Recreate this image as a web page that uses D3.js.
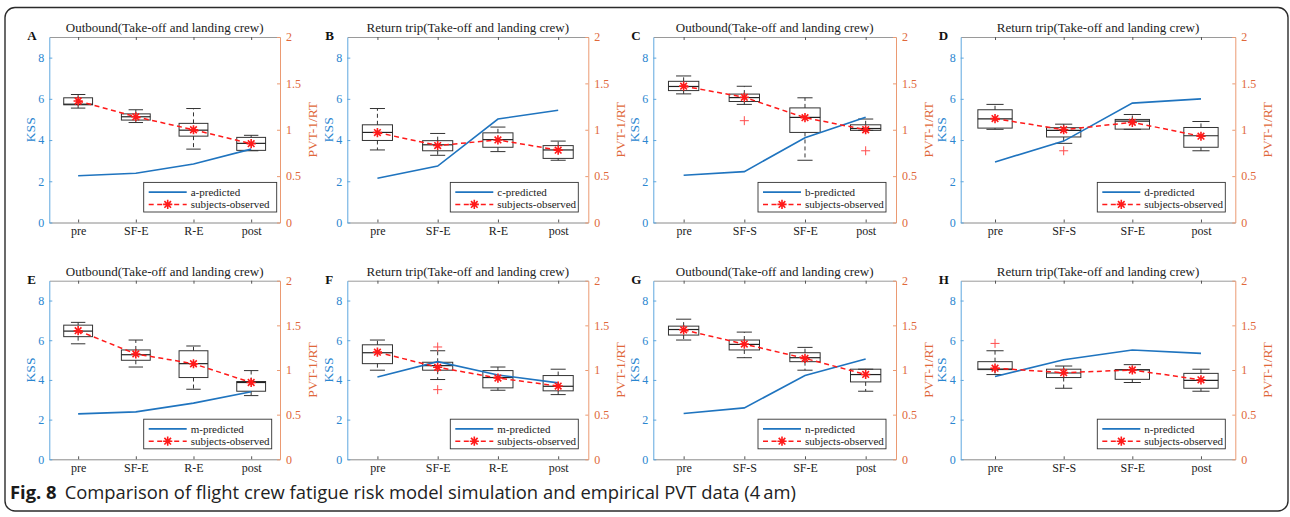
<!DOCTYPE html>
<html><head><meta charset="utf-8">
<script src="https://cdn.jsdelivr.net/npm/d3@7"></script>
<style>
html,body{margin:0;padding:0;background:#fff;}
svg{display:block;}
</style></head><body>
<svg id="fig" width="1290" height="517"></svg>
<script>
// ---- data ----
const panelLetters = ["A","B","C","D","E","F","G","H"];
const panelTitles = [
  "Outbound(Take-off and landing crew)", "Return trip(Take-off and landing crew)",
  "Outbound(Take-off and landing crew)", "Return trip(Take-off and landing crew)",
  "Outbound(Take-off and landing crew)", "Return trip(Take-off and landing crew)",
  "Outbound(Take-off and landing crew)", "Return trip(Take-off and landing crew)"];
const stagesRE = ["pre","SF-E","R-E","post"];
const stagesSF = ["pre","SF-S","SF-E","post"];
const panelStages = [stagesRE, stagesRE, stagesSF, stagesSF, stagesRE, stagesRE, stagesSF, stagesSF];
const predictedNames = ["a-predicted","c-predicted","b-predicted","d-predicted",
                        "m-predicted","m-predicted","n-predicted","n-predicted"];
const observedName = "subjects-observed";
// model-predicted KSS per stage
const predictedKSS = [
  [2.27, 2.39, 2.84, 3.56],
  [2.15, 2.74, 5.02, 5.45],
  [2.29, 2.47, 4.11, 5.11],
  [2.94, 3.95, 5.79, 6.00],
  [2.29, 2.39, 2.83, 3.40],
  [4.15, 4.92, 4.25, 3.85],
  [2.31, 2.59, 4.22, 5.05],
  [4.17, 5.02, 5.51, 5.34]];
// observed PVT 1/RT per stage
const observedPVT = [
  [1.31, 1.14, 1.00, 0.85],
  [0.97, 0.83, 0.89, 0.78],
  [1.47, 1.35, 1.13, 1.00],
  [1.12, 1.00, 1.08, 0.93],
  [1.44, 1.18, 1.07, 0.86],
  [1.20, 1.03, 0.91, 0.82],
  [1.45, 1.29, 1.13, 0.95],
  [1.02, 0.97, 1.00, 0.89]];
// KSS box summaries per stage: [lower whisker, Q1, median, Q3, upper whisker]
const kssBoxes = [
  [[5.55,5.71,5.74,6.05,6.21],[4.85,4.97,5.13,5.27,5.47],[3.56,4.19,4.48,4.81,5.53],[3.48,3.50,3.84,4.13,4.23]],
  [[3.52,3.98,4.37,4.74,5.53],[3.26,3.48,3.77,3.97,4.32],[3.44,3.65,4.02,4.35,4.63],[3.02,3.11,3.52,3.73,3.95]],
  [[6.24,6.40,6.60,6.85,7.11],[5.73,5.87,6.06,6.23,6.61],[3.02,4.37,5.10,5.56,6.05],[4.47,4.47,4.56,4.74,5.02]],
  [[4.52,4.58,5.03,5.47,5.73],[3.84,4.15,4.47,4.60,4.77],[4.52,4.53,4.92,5.00,5.24],[3.48,3.65,4.21,4.61,4.90]],
  [[5.82,6.18,6.46,6.76,6.90],[4.65,4.99,5.27,5.51,6.01],[3.53,4.12,4.82,5.47,5.71],[3.21,3.43,3.87,3.92,4.47]],
  [[4.49,4.82,5.37,5.77,6.01],[4.02,4.49,4.72,4.89,5.47],[3.48,3.60,4.12,4.47,4.65],[3.26,3.45,3.68,4.22,4.54]],
  [[6.01,6.26,6.54,6.71,7.06],[5.12,5.51,5.79,6.01,6.41],[4.49,4.92,5.12,5.37,5.64],[3.43,3.90,4.27,4.54,4.54]],
  [[4.27,4.52,4.55,4.92,5.47],[3.58,4.12,4.35,4.54,4.70],[3.87,4.03,4.50,4.52,4.77],[3.43,3.58,3.98,4.33,4.54]]];
const kssOutliers = [
  [[],[],[],[]],
  [[],[],[],[]],
  [[],[4.94],[],[3.48]],
  [[],[3.48],[],[]],
  [[],[],[],[]],
  [[],[5.66,3.51],[],[]],
  [[],[],[],[]],
  [[5.84],[],[],[]]];
const kssTicks = [0, 2, 4, 6, 8];
const pvtTicks = [0, 0.5, 1, 1.5, 2];
const captionLabel = "Fig. 8";
const captionText = "Comparison of flight crew fatigue risk model simulation and empirical PVT data (4\u2009am)";

// ---- layout ----
const rows = [{t: 37, b: 222.5}, {t: 280.7, b: 459.3}];
const cols = [{l: 49.3, r: 280}, {l: 347.3, r: 588.3}, {l: 653.3, r: 896}, {l: 960.7, r: 1235.3}];
const legendRightGap = [3.3, 10, 10, 10, 8.3, 10, 10, 10];
const legendWidth = [133, 128, 128, 128, 128, 128, 128, 128];

const BLUE_TXT = "#2a86d0", BLUE_AX = "#5ea7df";
const ORANGE_TXT = "#e0683a", ORANGE_AX = "#eb9a72";
const LINE_BLUE = "#1f74bf", RED = "#ff1a1a";
const SERIF = "'Liberation Serif', 'Times New Roman', serif";

const svg = d3.select("#fig");

// outer rounded frame
svg.append("rect").attr("x", 5).attr("y", 7.5).attr("width", 1283).attr("height", 503.5)
  .attr("rx", 10).attr("ry", 10).attr("fill", "none").attr("stroke", "#2b2b2b").attr("stroke-width", 1.4);

function starPath(r) {
  const d = r * 0.72;
  return `M${-r},0H${r}M0,${-r}V${r}M${-d},${-d}L${d},${d}M${-d},${d}L${d},${-d}`;
}

panelLetters.forEach((letter, i) => {
  const row = rows[Math.floor(i / 4)], col = cols[i % 4];
  const L = col.l, R = col.r, T = row.t, B = row.b;
  const stages = panelStages[i];

  const x = d3.scalePoint().domain(stages).range([L, R]).padding(0.5);
  const yK = d3.scaleLinear().domain([0, 9]).range([B, T]);
  const yP = d3.scaleLinear().domain([0, 2]).range([B, T]);
  const step = x.step();
  const bw = step * 0.5;

  const g = svg.append("g");

  // top frame line with inward ticks
  const top = g.append("g").attr("transform", `translate(0,${T})`)
    .call(d3.axisTop(x).tickSizeInner(-3).tickSizeOuter(0).tickFormat(""));
  top.select(".domain").attr("stroke", "#9a9a9a");
  top.selectAll(".tick line").attr("stroke", "#555");

  // bottom axis
  const bot = g.append("g").attr("transform", `translate(0,${B})`)
    .call(d3.axisBottom(x).tickSizeInner(-3).tickSizeOuter(0).tickPadding(4));
  bot.select(".domain").attr("stroke", "#8a8a8a");
  bot.selectAll(".tick line").attr("stroke", "#555");
  bot.selectAll("text").attr("font-family", SERIF).attr("font-size", 12).attr("fill", "#222");

  // left KSS axis
  const la = g.append("g").attr("transform", `translate(${L},0)`)
    .call(d3.axisLeft(yK).tickValues(kssTicks).tickSizeInner(-3).tickSizeOuter(0).tickPadding(5));
  la.select(".domain").attr("stroke", BLUE_AX);
  la.selectAll(".tick line").attr("stroke", BLUE_AX);
  la.selectAll("text").attr("font-family", SERIF).attr("font-size", 12).attr("fill", BLUE_TXT);

  // right PVT axis
  const ra = g.append("g").attr("transform", `translate(${R},0)`)
    .call(d3.axisRight(yP).tickValues(pvtTicks).tickSizeInner(-3).tickSizeOuter(0).tickPadding(6)
      .tickFormat(d3.format("")));
  ra.select(".domain").attr("stroke", ORANGE_AX);
  ra.selectAll(".tick line").attr("stroke", ORANGE_AX);
  ra.selectAll("text").attr("font-family", SERIF).attr("font-size", 12).attr("fill", ORANGE_TXT);

  // axis titles
  g.append("text").attr("transform", `translate(${L - 19},${(T + B) / 2}) rotate(-90)`)
    .attr("text-anchor", "middle").attr("dy", "0.35em")
    .attr("font-family", SERIF).attr("font-size", 13.5).attr("fill", BLUE_TXT).text("KSS");
  g.append("text").attr("transform", `translate(${R + 32},${(T + B) / 2}) rotate(-90)`)
    .attr("text-anchor", "middle").attr("dy", "0.35em")
    .attr("font-family", SERIF).attr("font-size", 13.5).attr("fill", ORANGE_TXT).text("PVT-1/RT");

  // panel title and letter
  g.append("text").attr("x", (L + R) / 2).attr("y", T - 5).attr("text-anchor", "middle")
    .attr("font-family", SERIF).attr("font-size", 13).attr("fill", "#222").text(panelTitles[i]);
  g.append("text").attr("x", L - 22).attr("y", T + 3).attr("font-family", SERIF)
    .attr("font-weight", "bold").attr("font-size", 13).attr("fill", "#111").text(letter);

  // box plots of KSS
  const boxes = g.append("g");
  stages.forEach((s, k) => {
    const [lo, q1, med, q3, hi] = kssBoxes[i][k];
    const cx = x(s);
    const bg = boxes.append("g").attr("stroke", "#333").attr("fill", "none").attr("stroke-width", 1);
    bg.append("line").attr("x1", cx).attr("x2", cx).attr("y1", yK(q3)).attr("y2", yK(hi))
      .attr("stroke-dasharray", "4,3");
    bg.append("line").attr("x1", cx).attr("x2", cx).attr("y1", yK(q1)).attr("y2", yK(lo))
      .attr("stroke-dasharray", "4,3");
    bg.append("line").attr("x1", cx - bw / 4).attr("x2", cx + bw / 4).attr("y1", yK(hi)).attr("y2", yK(hi));
    bg.append("line").attr("x1", cx - bw / 4).attr("x2", cx + bw / 4).attr("y1", yK(lo)).attr("y2", yK(lo));
    bg.append("rect").attr("x", cx - bw / 2).attr("width", bw)
      .attr("y", yK(q3)).attr("height", yK(q1) - yK(q3));
    bg.append("line").attr("x1", cx - bw / 2).attr("x2", cx + bw / 2).attr("y1", yK(med)).attr("y2", yK(med))
      .attr("stroke", "#222").attr("stroke-width", 1.2);
    kssOutliers[i][k].forEach(v => {
      boxes.append("path").attr("transform", `translate(${cx},${yK(v)})`)
        .attr("d", "M-4.5,0H4.5M0,-4.5V4.5").attr("stroke", "#ff4d4d").attr("stroke-width", 1);
    });
  });

  // predicted KSS line
  const pred = stages.map((s, k) => [x(s), yK(predictedKSS[i][k])]);
  g.append("path").attr("d", d3.line()(pred)).attr("fill", "none")
    .attr("stroke", LINE_BLUE).attr("stroke-width", 1.6);

  // observed PVT dashed line with asterisk markers
  const obs = stages.map((s, k) => [x(s), yP(observedPVT[i][k])]);
  g.append("path").attr("d", d3.line()(obs)).attr("fill", "none")
    .attr("stroke", RED).attr("stroke-width", 1.5).attr("stroke-dasharray", "5,3.5");
  g.selectAll(null).data(obs).join("path")
    .attr("transform", d => `translate(${d[0]},${d[1]})`)
    .attr("d", starPath(4.6)).attr("stroke", RED).attr("stroke-width", 1.6).attr("fill", "none");

  // legend
  const lw = legendWidth[i], lh = 29.6;
  const lx = R - legendRightGap[i] - lw, ly = B - 10.5 - lh;
  const lg = g.append("g").attr("transform", `translate(${lx},${ly})`);
  lg.append("rect").attr("width", lw).attr("height", lh).attr("fill", "#fff")
    .attr("stroke", "#333").attr("stroke-width", 0.9);
  lg.append("line").attr("x1", 5).attr("x2", 43).attr("y1", 9.7).attr("y2", 9.7)
    .attr("stroke", LINE_BLUE).attr("stroke-width", 1.6);
  lg.append("line").attr("x1", 5).attr("x2", 43).attr("y1", 22).attr("y2", 22)
    .attr("stroke", RED).attr("stroke-width", 1.5).attr("stroke-dasharray", "5,3.5");
  lg.append("path").attr("transform", "translate(24,22)").attr("d", starPath(4.6))
    .attr("stroke", RED).attr("stroke-width", 1.6);
  lg.append("text").attr("x", 47).attr("y", 9.7).attr("dy", "0.35em")
    .attr("font-family", SERIF).attr("font-size", 11).attr("fill", "#222").text(predictedNames[i]);
  lg.append("text").attr("x", 47).attr("y", 22).attr("dy", "0.35em")
    .attr("font-family", SERIF).attr("font-size", 11).attr("fill", "#222").text(observedName);
});

// figure caption
const SANS = "'Open Sans', 'Noto Sans', sans-serif";
const cap = svg.append("text").attr("x", 10).attr("y", 499).attr("font-family", SANS).attr("font-size", 18.4);
cap.append("tspan").attr("font-weight", "bold").attr("fill", "#1a1a1a").text(captionLabel);
cap.append("tspan").attr("dx", 8).attr("fill", "#222").text(captionText);
</script>
</body></html>
